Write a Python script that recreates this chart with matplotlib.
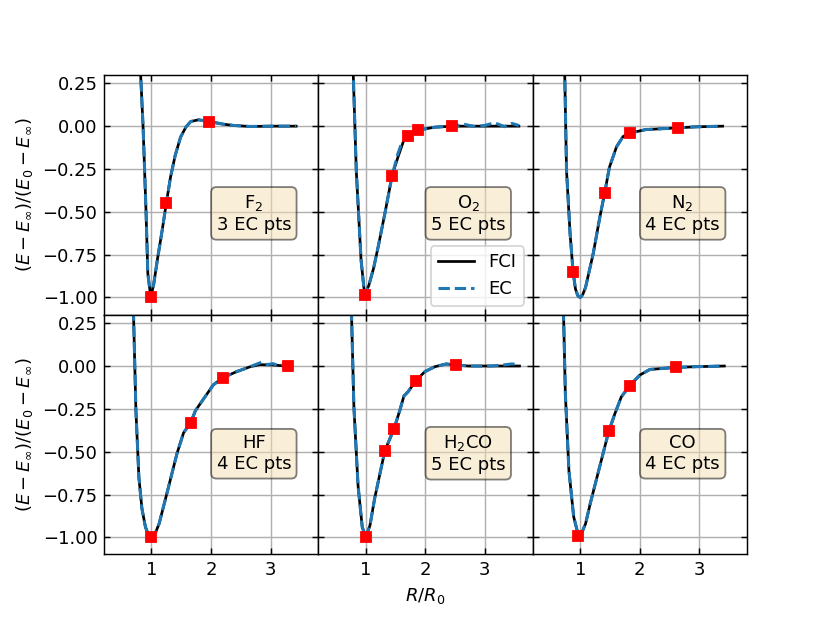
import matplotlib
matplotlib.use("Agg")
import matplotlib.pyplot as plt

# ---------------------------------------------------------------
# Data (R/R0, normalised energy)
# ---------------------------------------------------------------
labels = ["F$_2$\n3 EC pts", "O$_2$\n5 EC pts", "N$_2$\n4 EC pts",
          "HF\n4 EC pts", "H$_2$CO\n5 EC pts", "CO\n4 EC pts"]

# F2
f2_r = [0.76, 0.82, 0.86, 0.91, 0.94, 0.99, 1.04, 1.10, 1.18, 1.25, 1.32, 1.40,
        1.49, 1.58, 1.66, 1.79, 1.97, 2.20, 2.38, 2.66, 3.00, 3.43]
f2_e = [0.80, 0.295, 0.0, -0.50, -0.86, -1.00, -0.92, -0.78, -0.61, -0.45, -0.30,
        -0.17, -0.064, -0.005, 0.027, 0.037, 0.027, 0.012, 0.004, -0.002, 0.0, 0.0]
f2_ec_r = f2_r
f2_ec_e = f2_e
f2_pts_r = [0.99, 1.25, 1.97]
f2_pts_e = [-1.00, -0.448, 0.027]

# O2
o2_r = [0.74, 0.79, 0.84, 0.92, 0.98, 1.05, 1.13, 1.21, 1.32, 1.44, 1.54, 1.63,
        1.71, 1.88, 2.16, 2.45, 2.80, 3.20, 3.57]
o2_e = [0.80, 0.295, -0.26, -0.78, -0.985, -0.93, -0.83, -0.70, -0.51, -0.29,
        -0.18, -0.09, -0.06, -0.023, -0.006, 0.0, 0.0, 0.0, 0.0]
o2_ec_r = [0.74, 0.79, 0.84, 0.92, 0.98, 1.05, 1.13, 1.21, 1.32, 1.44, 1.54,
           1.60, 1.71, 1.88, 2.16, 2.45, 2.66, 2.83, 3.00, 3.16, 3.33, 3.45, 3.57]
o2_ec_e = [0.80, 0.295, -0.26, -0.78, -0.985, -0.93, -0.83, -0.70, -0.51, -0.29,
           -0.16, -0.10, -0.06, -0.023, -0.006, 0.0, 0.01, -0.002, 0.004, 0.02,
           -0.003, 0.016, 0.004]
o2_pts_r = [0.98, 1.44, 1.71, 1.88, 2.45]
o2_pts_e = [-0.985, -0.29, -0.06, -0.023, 0.0]

# N2
n2_r = [0.70, 0.74, 0.77, 0.83, 0.88, 0.92, 0.96, 1.00, 1.04, 1.09, 1.22, 1.33,
        1.41, 1.49, 1.61, 1.72, 1.84, 2.10, 2.64, 2.94, 3.39]
n2_e = [0.90, 0.30, -0.26, -0.63, -0.85, -0.95, -0.99, -1.00, -0.985, -0.94,
        -0.74, -0.53, -0.39, -0.24, -0.12, -0.06, -0.04, -0.02, -0.01, -0.004, 0.0]
n2_ec_r = n2_r
n2_ec_e = n2_e
n2_pts_r = [0.88, 1.41, 1.84, 2.64]
n2_pts_e = [-0.85, -0.39, -0.04, -0.01]

# HF
hf_r = [0.66, 0.70, 0.74, 0.79, 0.84, 0.90, 0.95, 1.00, 1.06, 1.13, 1.27, 1.43,
        1.54, 1.66, 1.74, 1.88, 2.04, 2.20, 2.43, 2.66, 2.82, 3.04, 3.18, 3.29]
hf_e = [0.90, 0.30, -0.26, -0.65, -0.83, -0.94, -0.985, -1.00, -0.98, -0.92,
        -0.73, -0.51, -0.39, -0.33, -0.26, -0.19, -0.11, -0.068, -0.033, -0.004,
        0.008, 0.006, 0.002, 0.0]
hf_ec_r = [0.66, 0.70, 0.74, 0.79, 0.84, 0.90, 0.95, 1.00, 1.06, 1.13, 1.27,
           1.43, 1.54, 1.66, 1.74, 1.88, 2.04, 2.20, 2.43, 2.66, 2.76, 2.85,
           2.95, 3.04, 3.12, 3.18, 3.29]
hf_ec_e = [0.90, 0.30, -0.26, -0.65, -0.83, -0.94, -0.985, -1.00, -0.98, -0.92,
           -0.73, -0.51, -0.39, -0.33, -0.26, -0.19, -0.11, -0.068, -0.033,
           -0.004, 0.010, 0.022, 0.008, 0.014, 0.004, 0.010, 0.0]
hf_pts_r = [1.00, 1.66, 2.20, 3.29]
hf_pts_e = [-1.00, -0.33, -0.068, 0.0]

# H2CO
h2co_r = [0.72, 0.76, 0.80, 0.87, 0.94, 1.00, 1.07, 1.15, 1.23, 1.32, 1.47, 1.57,
          1.64, 1.71, 1.84, 1.99, 2.16, 2.35, 2.51, 2.72, 3.10, 3.58]
h2co_e = [0.90, 0.30, -0.24, -0.70, -0.94, -1.00, -0.93, -0.77, -0.64, -0.494,
          -0.37, -0.26, -0.175, -0.15, -0.086, -0.033, -0.004, 0.012, 0.006,
          0.0, 0.0, 0.0]
h2co_ec_r = [0.72, 0.76, 0.80, 0.87, 0.94, 1.00, 1.07, 1.15, 1.23, 1.32, 1.47,
             1.57, 1.64, 1.71, 1.84, 1.99, 2.16, 2.35, 2.51, 2.72, 3.10, 3.30,
             3.45, 3.58]
h2co_ec_e = [0.90, 0.30, -0.24, -0.70, -0.94, -1.00, -0.93, -0.77, -0.64, -0.494,
             -0.37, -0.26, -0.175, -0.15, -0.086, -0.033, -0.004, 0.012, 0.006,
             0.0, 0.0, 0.006, 0.012, 0.008]
h2co_pts_r = [1.00, 1.32, 1.47, 1.84, 2.51]
h2co_pts_e = [-1.00, -0.494, -0.37, -0.086, 0.006]

# CO
co_r = [0.68, 0.72, 0.75, 0.81, 0.89, 0.97, 1.03, 1.09, 1.17, 1.31, 1.48, 1.58,
        1.69, 1.83, 2.00, 2.17, 2.61, 2.94, 3.42]
co_e = [0.90, 0.30, -0.16, -0.61, -0.88, -0.99, -0.97, -0.92, -0.80, -0.61,
        -0.38, -0.28, -0.18, -0.115, -0.053, -0.02, -0.008, -0.004, 0.0]
co_ec_r = co_r
co_ec_e = co_e
co_pts_r = [0.97, 1.48, 1.83, 2.61]
co_pts_e = [-0.99, -0.38, -0.115, -0.008]

fci_r = [f2_r, o2_r, n2_r, hf_r, h2co_r, co_r]
fci_e = [f2_e, o2_e, n2_e, hf_e, h2co_e, co_e]
ec_r = [f2_ec_r, o2_ec_r, n2_ec_r, hf_ec_r, h2co_ec_r, co_ec_r]
ec_e = [f2_ec_e, o2_ec_e, n2_ec_e, hf_ec_e, h2co_ec_e, co_ec_e]
pts_r = [f2_pts_r, o2_pts_r, n2_pts_r, hf_pts_r, h2co_pts_r, co_pts_r]
pts_e = [f2_pts_e, o2_pts_e, n2_pts_e, hf_pts_e, h2co_pts_e, co_pts_e]

yticks = [-1.00, -0.75, -0.50, -0.25, 0.00, 0.25]
xticks = [1, 2, 3]

# ---------------------------------------------------------------
# Plot
# ---------------------------------------------------------------
fig, axes = plt.subplots(2, 3, sharex=True, sharey=True,
                         figsize=(830 / 130, 623 / 130), dpi=130)
fig.subplots_adjust(wspace=0, hspace=0)

for i, ax in enumerate(axes.flat):
    ax.plot(fci_r[i], fci_e[i], color='black', lw=1.5, label='FCI')
    ax.plot(ec_r[i], ec_e[i], color='tab:blue', lw=1.7, ls='--', label='EC')
    ax.plot(pts_r[i], pts_e[i], 's', color='red', ms=5, zorder=5)
    ax.text(0.7, 0.42, labels[i], transform=ax.transAxes, ha='center',
            va='center', multialignment='center', fontsize=10,
            bbox=dict(boxstyle='round', facecolor='wheat', alpha=0.5))
    ax.grid(True)
    ax.tick_params(direction='in', top=True, right=True)
    ax.set_xticks(xticks)
    ax.set_yticks(yticks)

axes[0, 0].set_xlim(0.2, 3.8)
axes[0, 0].set_ylim(-1.1, 0.3)

axes[0, 1].legend(loc='lower right')
axes[0, 0].set_ylabel(r"$(E - E_\infty)/(E_0 - E_\infty)$")
axes[1, 0].set_ylabel(r"$(E - E_\infty)/(E_0 - E_\infty)$")
axes[1, 1].set_xlabel(r"$R/R_0$")

fig.savefig("out.png", dpi=130)
